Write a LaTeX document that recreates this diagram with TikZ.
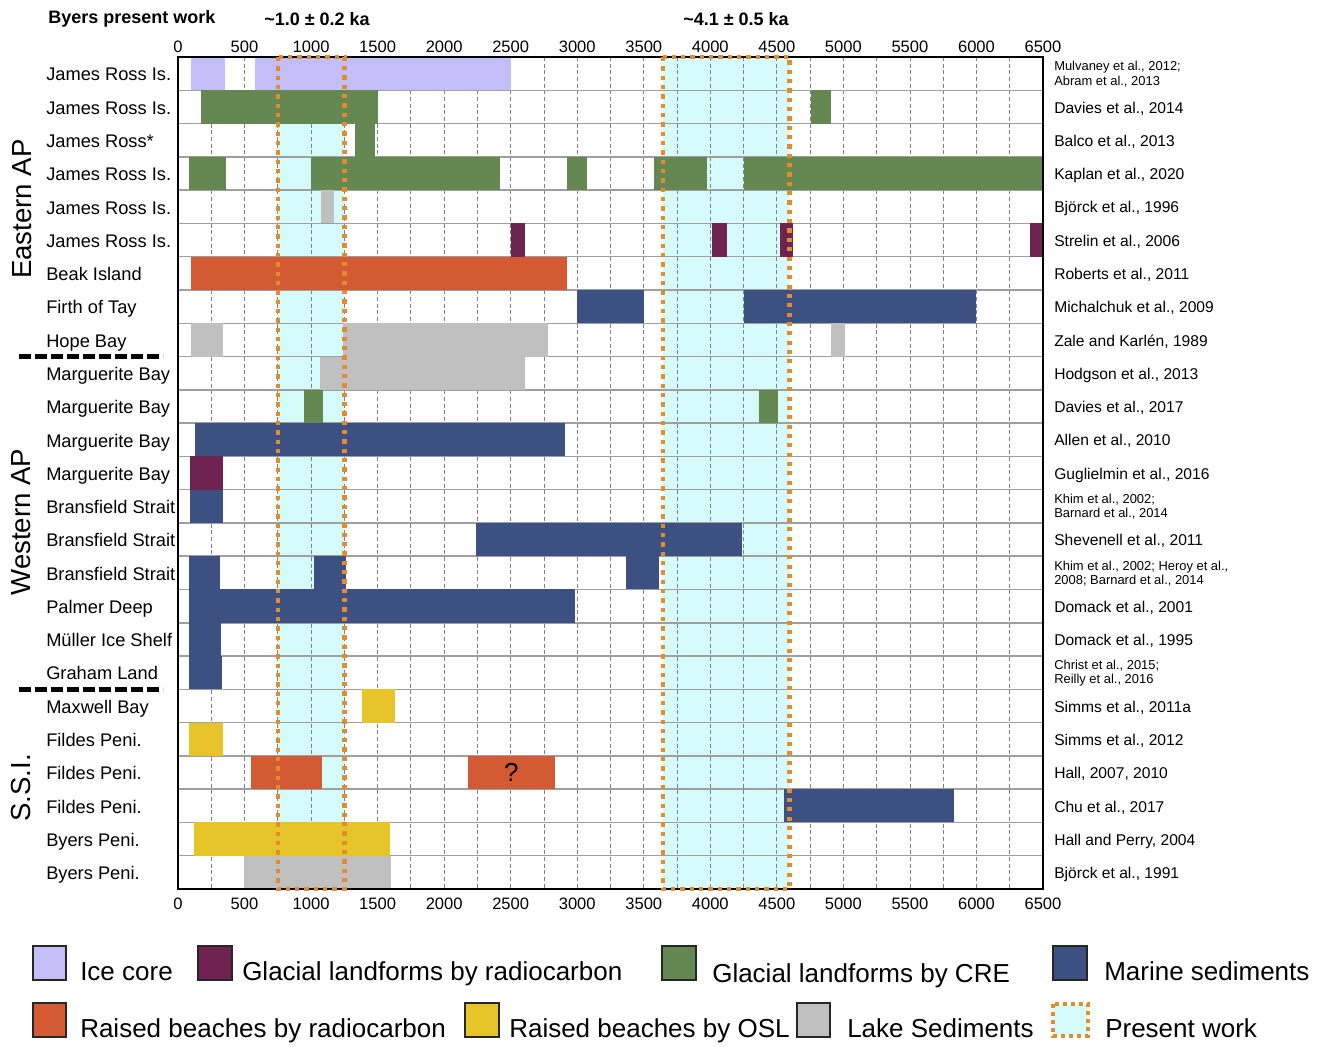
\documentclass[tikz,border=0pt]{standalone}
\usepackage{fontspec}
\setmainfont{Liberation Sans}
\definecolor{icec}{RGB}{196,190,248}
\definecolor{glrc}{RGB}{110,35,80}
\definecolor{cre}{RGB}{101,135,82}
\definecolor{mar}{RGB}{60,80,130}
\definecolor{rbrc}{RGB}{212,90,52}
\definecolor{osl}{RGB}{230,196,42}
\definecolor{lake}{RGB}{192,192,192}
\definecolor{pw}{RGB}{213,251,251}
\definecolor{pwo}{RGB}{226,140,48}
\newcommand\chartbar[4]{\fill[#1] (#3,#2-1) rectangle (#4,#2);}
\begin{document}
\begin{tikzpicture}[x=0.75pt,y=-0.75pt,
  rowlab/.style={anchor=base west,font=\fontsize{13.7}{16}\selectfont,inner sep=0},
  reflab/.style={anchor=base west,font=\fontsize{11.7}{14}\selectfont,inner sep=0},
  reflabs/.style={anchor=west,align=left,font=\fontsize{9.7}{10.8}\selectfont,inner sep=0},
  axlab/.style={anchor=base,font=\fontsize{12.4}{14}\selectfont,inner sep=0},
  grplab/.style={rotate=90,font=\fontsize{20.7}{24}\selectfont,inner sep=0},
  titlab/.style={anchor=base west,font=\bfseries\fontsize{13.5}{16}\selectfont,inner sep=0},
  leglab/.style={anchor=base west,font=\fontsize{19.5}{22}\selectfont,inner sep=0},
  swatch/.style={draw=black!85,line width=0.8pt},
  pwdots/.style={draw=pwo,line width=3.4pt,dash pattern=on 3.2pt off 3.8pt},
  sepline/.style={line width=3.75pt,dash pattern=on 9pt off 3pt}
]
\fill[white] (0,0) rectangle (1326,1046);
\useasboundingbox (0,0) rectangle (1326,1046);

% titles
\node[titlab] (t1) at (48,23) {Byers present work};
\node[titlab] (t2) at (264,25) {\textasciitilde1.0 ± 0.2 ka};
\node[titlab] (t3) at (683,25) {\textasciitilde4.1 ± 0.5 ka};

% axis labels
\foreach \v in {0,500,...,6500}{
  \node[axlab] (top\v) at ({178+\v*0.133077},52) {\v};
  \node[axlab] (bot\v) at ({178+\v*0.133077},909) {\v};
}

\begin{scope}[shift={(178,57)},x=0.0998077pt,y=-24.96pt]
  % present-work shading
  \fill[pw] (750,0) rectangle (1250,25);
  \fill[pw] (3645,0) rectangle (4595,25);
  % grid
  \foreach \v in {250,500,...,6250}
    \draw[gray,line width=0.6pt,dash pattern=on 3pt off 2pt] (\v,0) -- (\v,25);
  \foreach \r in {1,...,24}
    \draw[gray!75,line width=1.1pt] (0,\r) -- (6500,\r);
  % bars
  \chartbar{icec}{1}{100}{350}
  \chartbar{icec}{1}{580}{2500}
  \chartbar{cre}{2}{175}{1500}
  \chartbar{cre}{2}{4760}{4910}
  \chartbar{cre}{3}{1330}{1480}
  \chartbar{cre}{4}{80}{360}
  \chartbar{cre}{4}{1000}{2420}
  \chartbar{cre}{4}{2920}{3075}
  \chartbar{cre}{4}{3575}{3975}
  \chartbar{cre}{4}{4250}{6500}
  \chartbar{lake}{5}{1075}{1175}
  \chartbar{glrc}{6}{2500}{2610}
  \chartbar{glrc}{6}{4015}{4125}
  \chartbar{glrc}{6}{4520}{4625}
  \chartbar{glrc}{6}{6400}{6500}
  \chartbar{rbrc}{7}{95}{2920}
  \chartbar{mar}{8}{3000}{3500}
  \chartbar{mar}{8}{4250}{6000}
  \chartbar{lake}{9}{100}{340}
  \chartbar{lake}{9}{1240}{2780}
  \chartbar{lake}{9}{4910}{5010}
  \chartbar{lake}{10}{1065}{2610}
  \chartbar{cre}{11}{945}{1090}
  \chartbar{cre}{11}{4365}{4510}
  \chartbar{mar}{12}{125}{2905}
  \chartbar{glrc}{13}{90}{340}
  \chartbar{mar}{14}{90}{340}
  \chartbar{mar}{15}{2240}{4240}
  \chartbar{mar}{16}{85}{315}
  \chartbar{mar}{16}{1020}{1265}
  \chartbar{mar}{16}{3365}{3615}
  \chartbar{mar}{17}{80}{2985}
  \chartbar{mar}{18}{80}{325}
  \chartbar{mar}{19}{80}{330}
  \chartbar{osl}{20}{1380}{1630}
  \chartbar{osl}{21}{85}{335}
  \chartbar{rbrc}{22}{550}{1080}
  \chartbar{rbrc}{22}{2180}{2830}
  \chartbar{mar}{23}{4550}{5830}
  \chartbar{osl}{24}{120}{1590}
  \chartbar{lake}{25}{495}{1600}
  \node[font=\fontsize{19.5}{22}\selectfont,inner sep=0] (qm) at (2505,21.5) {?};
  % frame
  \draw[black,line width=1.8pt] (0,0) rectangle (6500,25);
  % present work boxes
  \draw[pwdots] (750,0) rectangle (1250,25);
  \draw[pwdots] (3645,0) rectangle (4595,25);
\end{scope}

% row labels
\foreach \r/\t in {1/{James Ross Is.},2/{James Ross Is.},3/{James Ross*},4/{James Ross Is.},
  5/{James Ross Is.},6/{James Ross Is.},7/{Beak Island},8/{Firth of Tay},9/{Hope Bay},
  10/{Marguerite Bay},11/{Marguerite Bay},12/{Marguerite Bay},13/{Marguerite Bay},
  14/{Bransfield Strait},15/{Bransfield Strait},16/{Bransfield Strait},17/{Palmer Deep},
  18/{Müller Ice Shelf},19/{Graham Land},20/{Maxwell Bay},21/{Fildes Peni.},
  22/{Fildes Peni.},23/{Fildes Peni.},24/{Byers Peni.},25/{Byers Peni.}}
  \node[rowlab] (site\r) at (46,{57+33.28*(\r-0.5)+7.3}) {\t};

% reference labels (single line)
\foreach \r/\t in {2/{Davies et al., 2014},3/{Balco et al., 2013},4/{Kaplan et al., 2020},
  5/{Björck et al., 1996},6/{Strelin et al., 2006},7/{Roberts et al., 2011},
  8/{Michalchuk et al., 2009},9/{Zale and Karlén, 1989},10/{Hodgson et al., 2013},
  11/{Davies et al., 2017},12/{Allen et al., 2010},13/{Guglielmin et al., 2016},
  15/{Shevenell et al., 2011},17/{Domack et al., 2001},18/{Domack et al., 1995},
  20/{Simms et al., 2011a},21/{Simms et al., 2012},22/{Hall, 2007, 2010},
  23/{Chu et al., 2017},24/{Hall and Perry, 2004},25/{Björck et al., 1991}}
  \node[reflab] (ref\r) at (1054,{57+33.28*(\r-0.5)+6.2}) {\t};
% reference labels (two lines)
\node[reflabs] (ref1) at (1054,{57+33.28*0.5+0.5}) {Mulvaney et al., 2012;\\Abram et al., 2013};
\node[reflabs] (ref14) at (1054,{57+33.28*13.5+0.5}) {Khim et al., 2002;\\Barnard et al., 2014};
\node[reflabs] (ref16) at (1054,{57+33.28*15.5+0.5}) {Khim et al., 2002; Heroy et al.,\\2008; Barnard et al., 2014};
\node[reflabs] (ref19) at (1054,{57+33.28*18.5+0.5}) {Christ et al., 2015;\\Reilly et al., 2016};

% group labels and separators
\node[grplab] (gE) at (22,209) {Eastern AP};
\node[grplab] (gW) at (21,522) {Western AP};
\node[grplab] (gS) at (21,788) {S.S.I.};
\draw[sepline] (19,356.5) -- (163,356.5);
\draw[sepline] (19,689.5) -- (163,689.5);

% legend
\draw[swatch,fill=icec] (33,946) rectangle (66,980);
\node[leglab] (l1) at (80,980) {Ice core};
\draw[swatch,fill=glrc] (198,946) rectangle (232,980);
\node[leglab] (l2) at (242,980) {Glacial landforms by radiocarbon};
\draw[swatch,fill=cre] (662,946) rectangle (696,980);
\node[leglab] (l3) at (712,982) {Glacial landforms by CRE};
\draw[swatch,fill=mar] (1053,946) rectangle (1087,980);
\node[leglab] (l4) at (1104,980) {Marine sediments};
\draw[swatch,fill=rbrc] (33,1003) rectangle (66,1037);
\node[leglab] (l5) at (80,1037) {Raised beaches by radiocarbon};
\draw[swatch,fill=osl] (465,1003) rectangle (499,1037);
\node[leglab] (l6) at (509,1037) {Raised beaches by OSL};
\draw[swatch,fill=lake] (797,1003) rectangle (830,1037);
\node[leglab] (l7) at (847,1037) {Lake Sediments};
\fill[pw] (1053,1004) rectangle (1088,1036);
\draw[pwdots,line width=3pt,dash pattern=on 3pt off 3pt] (1053,1004) rectangle (1088,1036);
\node[leglab] (l8) at (1105,1037) {Present work};
\end{tikzpicture}
\end{document}
